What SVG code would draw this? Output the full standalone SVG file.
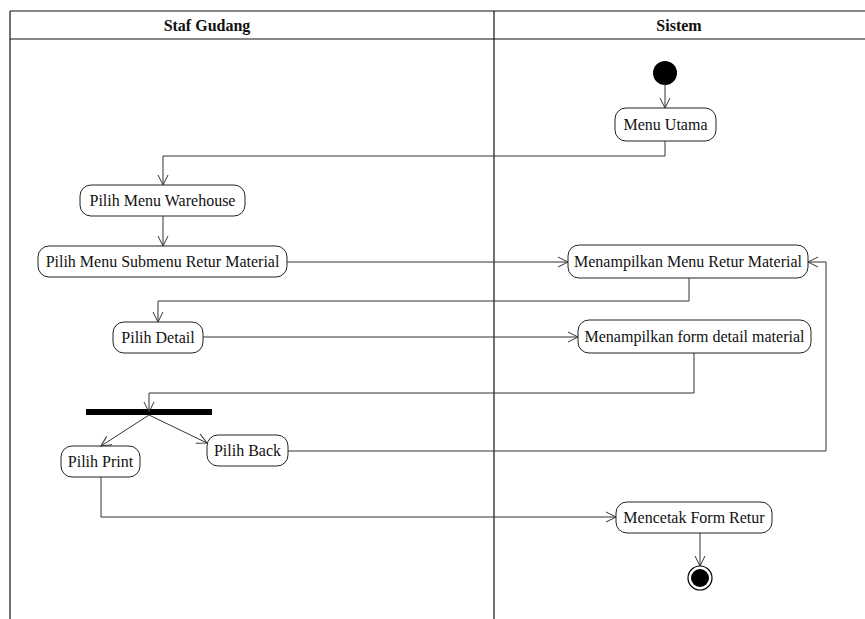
<svg xmlns="http://www.w3.org/2000/svg" width="865" height="619" viewBox="0 0 865 619">
<style>
.lane{stroke:#111;stroke-width:1.2;fill:none}
.node rect{fill:#fff;stroke:#222;stroke-width:1}
.node text{font-family:"Liberation Serif","Times New Roman",serif;font-size:16px;fill:#111;text-anchor:middle}
.hdr{font-family:"Liberation Serif","Times New Roman",serif;font-size:16px;font-weight:bold;fill:#111;text-anchor:middle}
.edge{fill:none;stroke:#333;stroke-width:1;marker-end:url(#arr)}
</style>
<defs>
<marker id="arr" viewBox="0 0 12 12" refX="11" refY="6" markerWidth="12" markerHeight="12" markerUnits="userSpaceOnUse" orient="auto">
<path d="M1,1 L11,6 L1,11" fill="none" stroke="#333" stroke-width="1"/>
</marker>
</defs>
<rect width="865" height="619" fill="#fff"/>
<g id="lanes">
<line class="lane" x1="10" y1="11" x2="865" y2="11"/>
<line class="lane" x1="10" y1="39" x2="865" y2="39" stroke="#555"/>
<line class="lane" x1="10" y1="11" x2="10" y2="619"/>
<line class="lane" x1="494" y1="11" x2="494" y2="619"/>
<text class="hdr" x="207" y="31">Staf Gudang</text>
<text class="hdr" x="679" y="31">Sistem</text>
</g>
<g id="start"><circle cx="665" cy="73" r="12" fill="#000"/></g>
<g id="menuUtama" class="node"><rect x="615" y="108" width="101" height="33" rx="11"/><text x="665.5" y="130">Menu Utama</text></g>
<g id="pilihWarehouse" class="node"><rect x="80" y="185" width="165" height="31" rx="11"/><text x="162.5" y="206">Pilih Menu Warehouse</text></g>
<g id="pilihSubmenu" class="node"><rect x="38" y="246" width="249" height="31" rx="11"/><text x="162.5" y="267">Pilih Menu Submenu Retur Material</text></g>
<g id="menampilkanMenu" class="node"><rect x="568" y="245" width="240" height="33" rx="11"/><text x="688" y="267">Menampilkan Menu Retur Material</text></g>
<g id="pilihDetail" class="node"><rect x="113" y="322" width="90" height="31" rx="11"/><text x="158" y="343">Pilih Detail</text></g>
<g id="menampilkanForm" class="node"><rect x="578" y="320" width="233" height="33" rx="11"/><text x="694.5" y="342">Menampilkan form detail material</text></g>
<g id="fork"><rect x="86" y="409" width="126" height="6" fill="#000"/></g>
<g id="pilihPrint" class="node"><rect x="61" y="446" width="79" height="31" rx="11"/><text x="100.5" y="467">Pilih Print</text></g>
<g id="pilihBack" class="node"><rect x="207" y="435" width="81" height="31" rx="11"/><text x="247.5" y="456">Pilih Back</text></g>
<g id="mencetak" class="node"><rect x="616" y="502" width="156" height="31" rx="11"/><text x="694" y="523">Mencetak Form Retur</text></g>
<g id="end"><circle cx="700" cy="578" r="12" fill="#fff" stroke="#000" stroke-width="1.2"/><circle cx="700" cy="578" r="9" fill="#000"/></g>
<g id="connectors">
<path class="edge" d="M665,85 L665,108"/>
<path class="edge" d="M665,141 L665,156 L163,156 L163,185"/>
<path class="edge" d="M163,216 L163,246"/>
<path class="edge" d="M287,262 L568,262"/>
<path class="edge" d="M689,278 L689,301 L158,301 L158,322"/>
<path class="edge" d="M203,337 L578,337"/>
<path class="edge" d="M694,353 L694,393 L149,393 L149,412"/>
<path class="edge" d="M149,415 L101,446"/>
<path class="edge" d="M149,415 L207,443"/>
<path class="edge" d="M288,451 L826,451 L826,262 L808,262"/>
<path class="edge" d="M101,477 L101,517 L616,517"/>
<path class="edge" d="M700,533 L700,566"/>
</g>
</svg>
